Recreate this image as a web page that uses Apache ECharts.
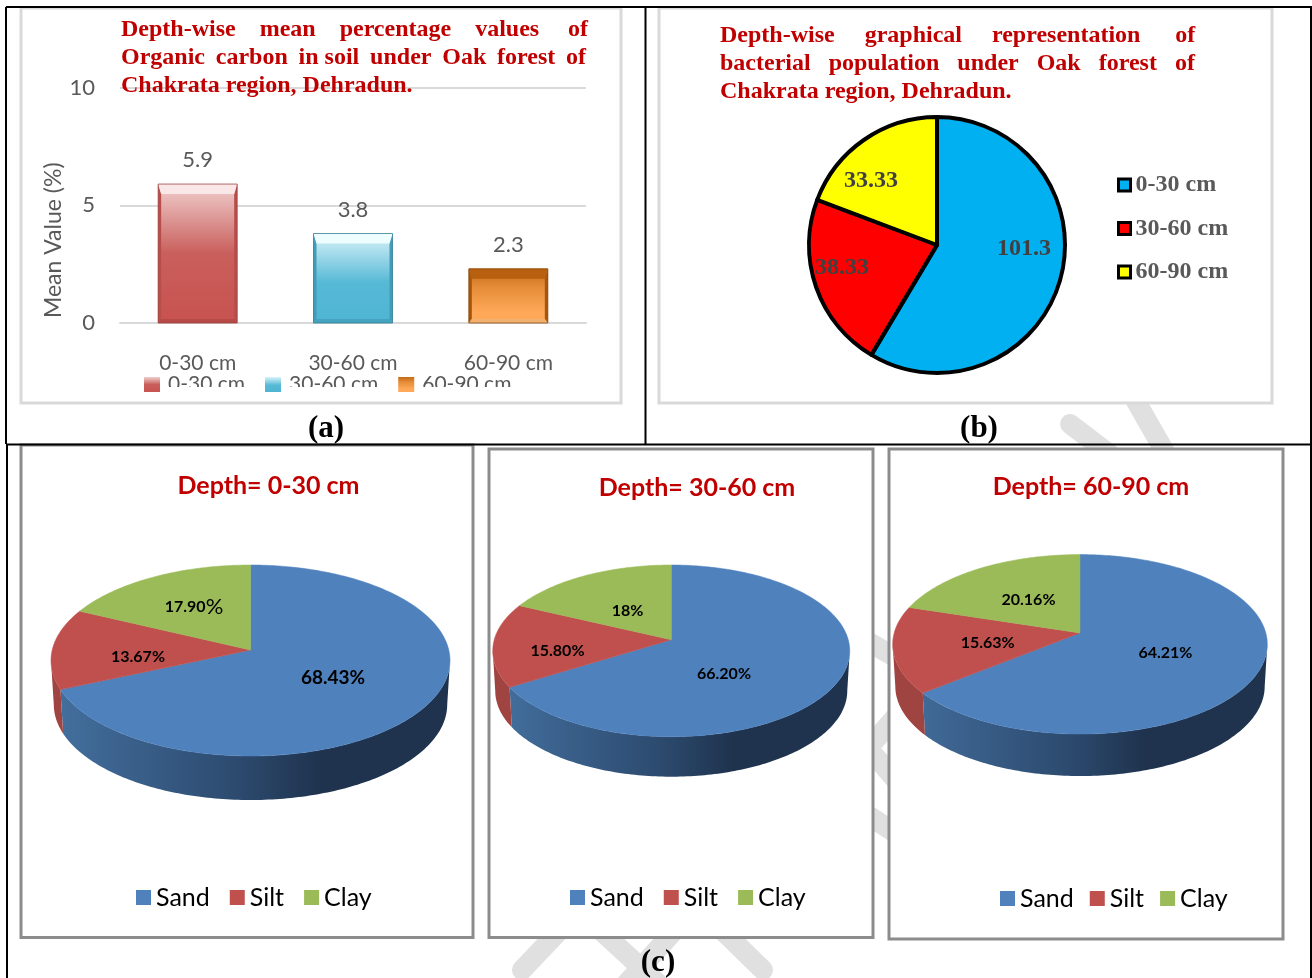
<!DOCTYPE html>
<html>
<head>
<meta charset="utf-8">
<style>html,body{margin:0;padding:0;background:#fff}#c{width:1312px;height:978px}</style>
<script src="https://cdn.jsdelivr.net/npm/echarts@6/dist/echarts.min.js"></script>
</head>
<body>
<div id="c"></div>
<script>
// ---------- data ----------
const depthCategories = ['0-30 cm', '30-60 cm', '60-90 cm'];
const organicCarbon = [5.9, 3.8, 2.3];
const yTicks = { min: 0, max: 10, interval: 5 };
const bacterialPopulation = [101.3, 38.33, 33.33];
const bacterialLabels = ['101.3', '38.33', '33.33'];
const textureNames = ['Sand', 'Silt', 'Clay'];
const sandPct = [68.43, 66.20, 64.21];
const siltPct = [13.67, 15.80, 15.63];
const clayPct = [17.90, 18, 20.16];
const sandLabels = ['68.43%', '66.20%', '64.21%'];
const siltLabels = ['13.67%', '15.80%', '15.63%'];
const clayLabels = ['17.90%', '18%', '20.16%'];

// ---------- styles ----------
const SERIF = '"Liberation Serif", serif';
const SANS = 'Lato, "Noto Sans", sans-serif';
const RED = '#c00000';
const grad = (stops) => ({ type: 'linear', x: 0, y: 0, x2: 0, y2: 1, colorStops: stops.map(s => ({ offset: s[0], color: s[1] })) });
const barFills = [
  grad([[0, '#f0cfce'], [0.5, '#c95f5c'], [1, '#c8524f']]),
  grad([[0, '#d9f3f9'], [0.55, '#56b9d6'], [1, '#4fb5d3']]),
  grad([[0, '#c46a18'], [0.35, '#e58d38'], [0.8, '#ffa858'], [1, '#ffa858']])
];
const bevels = [
  { top: '#f9e8e7', side: '#b84e4b', bottom: '#b64a47', edge: '#a04340' },
  { top: '#eefdff', side: '#429cb8', bottom: '#45a3bf', edge: '#347f97' },
  { top: '#b8600f', side: '#a5570f', bottom: '#f0b070', edge: '#8a4a0c' }
];
const BAR_W = 79;
const pieFills = { Sand: '#4f81bd', Silt: '#c0504d', Clay: '#9bbb59' };
const bactColors = ['#00b0f0', '#ff0000', '#ffff00'];

// projective geometry of the three tilted discs
const discs = [
  { cx: 250.5, apexY: 650, A: 198.3, a: 94.35, b: 0.11, depth: 44, shrink: 0.986 },
  { cx: 671.25, apexY: 639.7, A: 177, a: 84.4, b: 0.13, depth: 40, shrink: 0.986 },
  { cx: 1080, apexY: 632.9, A: 185.8, a: 88.3, b: 0.127, depth: 42, shrink: 0.986 }
];
const discLabelPos = [
  { Sand: [333, 677.5, 19], Silt: [138, 657, 16], Clay: [194, 607, 16] },
  { Sand: [724, 674, 16], Silt: [557.5, 651, 16], Clay: [627.5, 611, 16] },
  { Sand: [1165.4, 653, 16], Silt: [987.7, 642.5, 16], Clay: [1028.5, 600, 16] }
];
const discPoint = (g, deg) => {
  const t = deg * Math.PI / 180, u = Math.sin(t), v = Math.cos(t), d = 1 + g.b * v;
  return [g.cx + g.A * u / d, g.apexY - g.a * v / d];
};

function discSlice(i, name, startPct, pct, labelText) {
  const g = discs[i], lp = discLabelPos[i][name];
  return {
    type: 'custom', name: name, coordinateSystem: 'none', z: 3,
    silent: true,
    itemStyle: { color: pieFills[name] },
    data: [[pct]],
    renderItem: function (params, api) {
      const val = api.value(0);
      const s = startPct * 3.6, e = (startPct + val) * 3.6;
      const top = [[g.cx, g.apexY]];
      for (let a = s; a < e; a += 1) top.push(discPoint(g, a));
      top.push(discPoint(g, e));
      const children = [];
      const tR = Math.acos(-g.b) * 180 / Math.PI, tL = 360 - tR;
      const ws = Math.max(s, tR), we = Math.min(e, tL);
      if (we > ws) {
        const upper = [], lower = [];
        for (let a = ws; a < we; a += 1) upper.push(discPoint(g, a));
        upper.push(discPoint(g, we));
        upper.forEach(p => lower.push([g.cx + (p[0] - g.cx) * g.shrink, p[1] + g.depth]));
        const fill = name === 'Sand'
          ? { type: 'linear', global: true, x: g.cx - g.A, y: 0, x2: g.cx + g.A * 0.35, y2: 0,
              colorStops: [{ offset: 0, color: '#44709f' }, { offset: 0.7, color: '#2c4a6e' }, { offset: 1, color: '#1f334e' }] }
          : '#a04441';
        children.push({ type: 'polygon', shape: { points: upper.concat(lower.reverse()) }, style: { fill: fill, stroke: null } });
      }
      children.push({ type: 'polygon', shape: { points: top }, style: { fill: pieFills[name], stroke: pieFills[name], lineWidth: 0.5 } });
      const isRich = labelText === '17.90%';
      children.push({
        type: 'text', z2: 20,
        style: isRich ? {
          x: lp[0], y: lp[1], align: 'center', verticalAlign: 'middle',
          text: '{a|17.90}{b|%}',
          rich: { a: { font: 'bold 16px ' + SANS, fill: '#000' }, b: { font: '22px ' + SANS, fill: '#000' } }
        } : {
          x: lp[0], y: lp[1], align: 'center', verticalAlign: 'middle',
          text: labelText, font: 'bold ' + lp[2] + 'px ' + SANS, fill: '#000'
        }
      });
      return { type: 'group', children: children };
    }
  };
}

const discSeries = [];
sandPct.forEach((v, i) => {
  discSeries.push(discSlice(i, 'Sand', 0, sandPct[i], sandLabels[i]));
  discSeries.push(discSlice(i, 'Silt', sandPct[i], siltPct[i], siltLabels[i]));
  discSeries.push(discSlice(i, 'Clay', sandPct[i] + siltPct[i], clayPct[i], clayLabels[i]));
});

const barSeries = depthCategories.map((c, i) => ({
  type: 'bar', name: c, xAxisIndex: 0, yAxisIndex: 0, barWidth: BAR_W, barGap: '-100%',
  data: organicCarbon.map((v, j) => (j === i ? v : null)),
  itemStyle: { color: barFills[i] },
  label: { show: true, position: 'top', distance: 13, color: '#595959', fontFamily: SANS, fontSize: 22 }
}));

const bevelSeries = {
  type: 'custom', name: 'bevel', xAxisIndex: 0, yAxisIndex: 0, z: 4, silent: true,
  data: organicCarbon.map((v, i) => [i, v]),
  encode: { x: 0, y: 1 },
  renderItem: function (params, api) {
    const i = api.value(0), st = bevels[i];
    const p = api.coord([i, api.value(1)]), b = api.coord([i, 0]);
    const l = p[0] - BAR_W / 2, r = p[0] + BAR_W / 2, t = p[1], bt = b[1];
    const hT = 10, sW = 3, hB = 4;
    const poly = (pts, fill) => ({ type: 'polygon', shape: { points: pts }, style: { fill: fill } });
    return { type: 'group', children: [
      poly([[l, t], [l + sW, t + hT], [l + sW, bt - hB], [l, bt]], st.side),
      poly([[r, t], [r - sW, t + hT], [r - sW, bt - hB], [r, bt]], st.side),
      poly([[l, bt], [l + sW, bt - hB], [r - sW, bt - hB], [r, bt]], st.bottom),
      poly([[l, t], [r, t], [r - sW, t + hT], [l + sW, t + hT]], st.top),
      { type: 'rect', shape: { x: l, y: t, width: BAR_W, height: bt - t }, style: { fill: null, stroke: st.edge, lineWidth: 0.8 } }
    ] };
  }
};

const bacteriaPie = {
  type: 'pie', name: 'Bacterial population', center: [937, 245], radius: [0, 128], startAngle: 90, clockwise: true,
  data: depthCategories.map((c, i) => ({ name: c, value: bacterialPopulation[i], itemStyle: { color: bactColors[i] } })),
  itemStyle: { borderColor: '#000', borderWidth: 4 },
  silent: true,
  label: {
    show: true, position: 'inside',
    formatter: p => bacterialLabels[p.dataIndex],
    fontFamily: SERIF, fontWeight: 'bold', fontSize: 24, color: '#404040'
  },
  labelLine: { show: false },
  labelLayout: p => {
    const pos = [[1024, 249], [842, 268], [871, 181]][p.dataIndex];
    return { x: pos[0], y: pos[1], align: 'center', verticalAlign: 'middle', hideOverlap: false };
  }
};

// ---------- page furniture ----------
const wm = (pts) => ({ type: 'polyline', z: -3, silent: true, shape: { points: pts }, style: { stroke: '#e0e0e0', lineWidth: 20, lineCap: 'round', fill: null } });
const card = (x, y, x2, y2, col) => ({ type: 'rect', z: -1, silent: true, shape: { x: x, y: y, width: x2 - x, height: y2 - y }, style: { fill: '#fff', stroke: col, lineWidth: 3 } });
const rule = (x1, y1, x2, y2) => ({ type: 'line', z: 1, silent: true, shape: { x1: x1, y1: y1, x2: x2, y2: y2 }, style: { stroke: '#000', lineWidth: 2 } });
const mask = (x, y, w, h) => ({ type: 'rect', z: 30, silent: true, shape: { x: x, y: y, width: w, height: h }, style: { fill: '#fff' } });
const tag = (t, x, y) => ({ type: 'text', z: 5, silent: true, style: { text: t, x: x, y: y, align: 'center', verticalAlign: 'middle', font: 'bold 31px ' + SERIF, fill: '#000' } });

const graphicElements = [
  wm([[1070, 424], [1112, 456]]), wm([[1133, 396], [1165, 452]]),
  wm([[560, 930], [522, 970]]), wm([[600, 930], [660, 985]]), wm([[675, 930], [625, 985]]), wm([[722, 930], [763, 970]]),
  wm([[860, 637], [900, 660]]), wm([[868, 748], [900, 712]]), wm([[868, 748], [900, 785]]), wm([[860, 810], [900, 836]]),
  card(21, 8, 621, 403, '#d9d9d9'), card(659, 8, 1272, 403, '#d9d9d9'),
  card(21, 445, 473, 937.5, '#8c8c8c'), card(489, 449, 873, 937.5, '#8c8c8c'), card(889, 449, 1283, 939, '#8c8c8c'),
  rule(6, 7, 1312, 7), rule(6, 7, 6, 444), rule(645.5, 7, 645.5, 444), rule(6, 444.5, 1312, 444.5), rule(7, 444, 7, 978), rule(1311, 7, 1311, 978),
  mask(163, 387, 100, 14), mask(284, 387, 113, 14), mask(416, 387, 110, 14),
  tag('(a)', 326, 428.5), tag('(b)', 979, 428.5), tag('(c)', 658, 963)
];

const titleLine = (t, l, tp) => ({
  text: t, left: l, top: tp, padding: 0,
  textStyle: { fontFamily: SERIF, fontWeight: 'bold', fontSize: 24, lineHeight: 28, color: RED }
});
const depthTitle = (t, cx, tp) => ({
  text: t, left: cx, top: tp, padding: 0, textAlign: 'center',
  textStyle: { fontFamily: SANS, fontWeight: 'bold', fontSize: 25, color: RED }
});
const textureLegend = (x, gap, top) => ({
  show: true, selectedMode: false, left: x, top: top, padding: 0, itemGap: gap, itemWidth: 15, itemHeight: 15, icon: 'rect',
  data: textureNames, textStyle: { fontFamily: SANS, fontSize: 25, color: '#000' }
});

const option = {
  animation: false,
  backgroundColor: '#fff',
  title: [
    titleLine('Depth-wise    mean    percentage    values    \u2009of\nOrganic \u2009carbon \u2009in soil \u2009under \u2009Oak \u2009forest \u2009of\nChakrata region, Dehradun.', 121, 16),
    titleLine('Depth-wise     graphical     representation  \u2009   of\nbacterial   population   under   Oak   forest   of\nChakrata region, Dehradun.', 720, 22),
    depthTitle('Depth= 0-30 cm', 268.5, 473),
    depthTitle('Depth= 30-60 cm', 697, 475),
    depthTitle('Depth= 60-90 cm', 1091, 474)
  ],
  grid: { left: 120, top: 87.5, width: 466, height: 235.5, containLabel: false },
  xAxis: {
    type: 'category', data: depthCategories,
    axisLine: { lineStyle: { color: '#d9d9d9', width: 2 } }, axisTick: { show: false },
    axisLabel: { margin: 30, fontFamily: SANS, fontSize: 21, color: '#595959' }
  },
  yAxis: {
    type: 'value', min: yTicks.min, max: yTicks.max, interval: yTicks.interval,
    name: 'Mean Value (%)', nameLocation: 'middle', nameGap: 55, nameRotate: 90,
    nameTextStyle: { fontFamily: SANS, fontSize: 23, color: '#595959', padding: [0, 70, 0, 0] },
    axisLine: { show: false }, axisTick: { show: false },
    axisLabel: { margin: 25, fontFamily: SANS, fontSize: 22, color: '#595959' },
    splitLine: { lineStyle: { color: '#d9d9d9', width: 2 } }
  },
  legend: [
    {
      selectedMode: false, left: 144, top: 374, padding: 0, itemGap: 20, itemWidth: 16, itemHeight: 15, icon: 'rect',
      data: depthCategories, textStyle: { fontFamily: SANS, fontSize: 21, color: '#595959', padding: [0, 0, 0, 3] }
    },
    {
      selectedMode: false, orient: 'vertical', left: 1117, top: 173, padding: 0, itemGap: 19.5, itemWidth: 12, itemHeight: 12, icon: 'rect',
      data: depthCategories.map((c, i) => ({ name: c, itemStyle: { color: bactColors[i], borderColor: '#000', borderWidth: 3 } })),
      textStyle: { fontFamily: SERIF, fontWeight: 'bold', fontSize: 24, color: '#595959' }
    },
    textureLegend(136, 20, 885),
    textureLegend(570, 20, 885),
    textureLegend(1000, 16, 886)
  ],
  graphic: { elements: graphicElements },
  series: barSeries.concat([bevelSeries, bacteriaPie]).concat(discSeries)
};

const chart = echarts.init(document.getElementById('c'), null, { renderer: 'canvas', width: 1312, height: 978 });
chart.setOption(option);
</script>
</body>
</html>
